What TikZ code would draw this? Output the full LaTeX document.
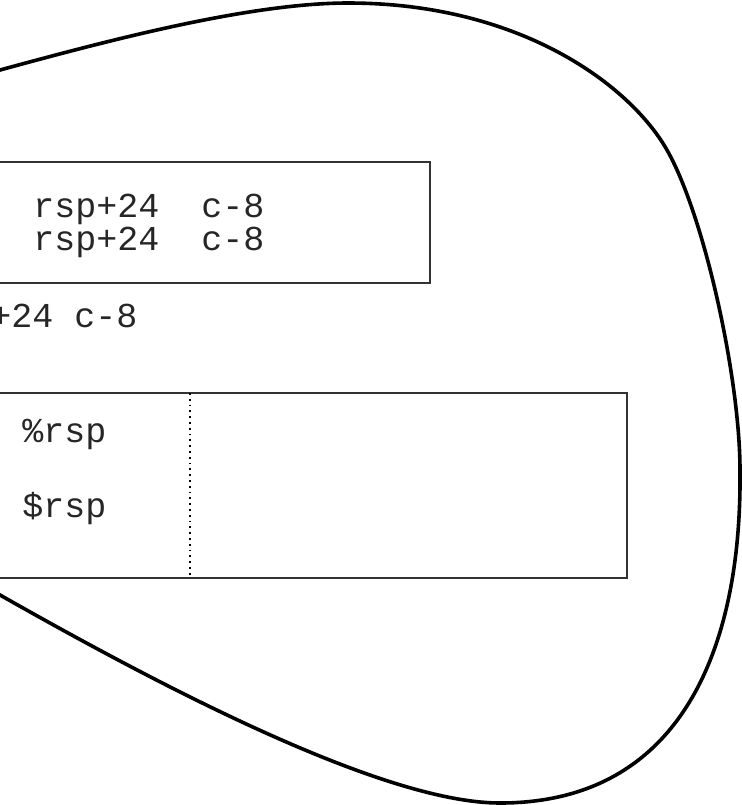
\documentclass[tikz,border=0pt]{standalone}
\usepackage{fontspec}
\setmonofont{Liberation Mono}
\usepackage{tikz}
\usetikzlibrary{positioning}

\begin{document}
\begin{tikzpicture}[
		x=0.5pt, y=-0.5pt,
		every node/.style={font=\ttfamily\fontsize{17.5}{21}\selectfont, text=black!85, inner sep=0pt, anchor=base west},
		frame/.style={draw=black!80, line width=1pt},
		blob/.style={draw=black, line width=1.8pt},
		divider/.style={draw=black, dotted, line width=0.9pt}
		]
		\useasboundingbox (0,0) rectangle (742,805);
		\clip (0,0) rectangle (742,805);
		
		% outer region
		\draw[blob] (0,70) .. controls (110,40) and (250,3) .. (348,3)
			.. controls (520,3) and (630,85) .. (667,150)
			.. controls (705,217) and (740,380) .. (740,470)
			.. controls (742,650) and (680,803) .. (500,803)
			.. controls (380,803) and (150,680) .. (0,595)
			.. controls (-150,510) and (-150,140) .. cycle;
		
		% offset table
		\draw[frame] (-60,162) rectangle (430,283);
		\node (off1) at (33,217) {rsp+24~~c-8};
		\node (off2) at ([yshift=-16.5pt]off1.base west) {rsp+24~~c-8};
		\node (off3) at (-10,327) {+24 c-8};
		
		% register table
		\draw[frame] (-60,393) rectangle (627,578);
		\coordinate (divtop) at (190,393);
		\coordinate (divbot) at (190,578);
		\draw[divider] (divtop) -- (divbot);
		\node (reg1) at (22,442) {\%rsp};
		\node (reg2) at (22,517) {\$rsp};
		
	\end{tikzpicture}
\end{document}
